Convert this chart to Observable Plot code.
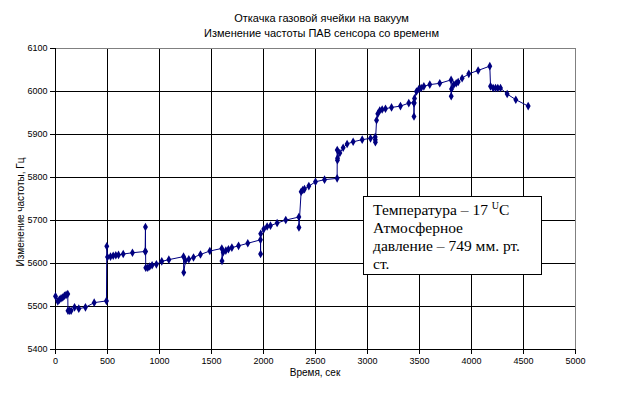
<!DOCTYPE html>
<html>
<head>
<meta charset="utf-8">
<script src="https://cdn.jsdelivr.net/npm/d3@7"></script>
<script src="https://cdn.jsdelivr.net/npm/@observablehq/plot@0.6"></script>
<style>
  html, body { margin: 0; padding: 0; background: #fff; }
  #wrap { position: relative; width: 643px; height: 394px; overflow: hidden; font-family: "Liberation Sans", Arial, sans-serif; }
  #title { position: absolute; left: 0; width: 643px; top: 11px; text-align: center; font-size: 11px; line-height: 15px; color: #000; }
  #chart { position: absolute; left: 0; top: 40px; }
  #ylab { position: absolute; left: 20px; top: 212px; transform: translate(-50%, -50%) rotate(-90deg); font-size: 10px; white-space: nowrap; }
  #xlab { position: absolute; left: 315px; top: 367px; transform: translateX(-50%); font-size: 10px; white-space: nowrap; }
  #note { position: absolute; left: 363px; top: 196px; width: 179px; height: 79px; border: 1px solid #000; background: #fff;
          font-family: "Liberation Serif", "Times New Roman", serif; font-size: 15.5px; line-height: 18px; padding: 4px 0 0 9px; box-sizing: border-box; white-space: nowrap; }
  #note sup { font-size: 10px; vertical-align: 6px; line-height: 0; }
</style>
</head>
<body>
<div id="wrap">
  <div id="title">Откачка газовой ячейки на вакуум<br>Изменение частоты ПАВ сенсора со временм</div>
  <div id="chart"></div>
  <div id="ylab">Изменение частоты, Гц</div>
  <div id="xlab">Время, сек</div>
  <div id="note">Температура – 17 <sup>U</sup>C<br>Атмосферное<br>давление – 749 мм. рт.<br>ст.</div>
</div>
<script>
const seconds = [0,22,38,54,70,86,102,118,120,134,150,183,224,288,372,490,493,500,529,555,580,606,651,740,862,865,866,868,887,906,929,970,1022,1090,1231,1233,1250,1282,1327,1394,1484,1599,1601,1612,1638,1663,1696,1760,1849,1971,1972,1973,2003,2035,2067,2131,2214,2340,2341,2362,2378,2394,2436,2500,2587,2708,2709,2711,2712,2734,2766,2804,2862,2949,3029,3074,3075,3076,3087,3099,3118,3141,3173,3231,3317,3397,3446,3447,3449,3452,3471,3494,3516,3542,3599,3695,3804,3805,3808,3830,3853,3872,3910,3974,4064,4176,4183,4208,4231,4253,4279,4343,4426,4545];
const frequency = [5524,5512,5516,5519,5521,5525,5527,5529,5490,5490,5490,5498,5495,5498,5509,5513,5640,5615,5616,5618,5619,5620,5622,5625,5628,5685,5628,5590,5590,5593,5596,5598,5605,5609,5616,5579,5607,5610,5614,5621,5629,5635,5606,5626,5630,5633,5637,5641,5647,5655,5622,5669,5680,5686,5688,5694,5701,5708,5684,5767,5771,5773,5780,5790,5795,5798,5864,5840,5845,5857,5869,5878,5883,5888,5891,5894,5888,5882,5933,5948,5956,5958,5960,5963,5966,5973,5974,5942,5973,5984,6000,6006,6008,6012,6016,6019,6027,5989,6006,6016,6019,6022,6031,6041,6049,6059,6012,6008,6008,6008,6008,5994,5981,5966];
const xTicks = [0,500,1000,1500,2000,2500,3000,3500,4000,4500,5000];
const yTicks = [5400,5500,5600,5700,5800,5900,6000,6100];

const data = seconds.map((t, i) => ({t, v: frequency[i]}));

const chart = Plot.plot({
  width: 643,
  height: 354,
  marginTop: 8,
  marginLeft: 55,
  marginRight: 68,
  marginBottom: 45,
  x: {domain: [0, 5000], label: null},
  y: {domain: [5400, 6100], label: null},
  style: {fontFamily: "'Liberation Sans', Arial, sans-serif", fontSize: "9px", color: "#000", background: "#fff", overflow: "visible"},
  marks: [
    Plot.gridX(xTicks.slice(1, -1), {stroke: "#000", strokeOpacity: 1}),
    Plot.gridY(yTicks.slice(1, -1), {stroke: "#000", strokeOpacity: 1}),
    Plot.ruleY([6100], {stroke: "#808080"}),
    Plot.ruleX([5000], {stroke: "#808080"}),
    Plot.ruleX([0], {stroke: "#000"}),
    Plot.ruleY([5400], {stroke: "#000"}),
    Plot.axisX(xTicks, {tickSize: 5, tickPadding: 3, label: null, stroke: "#000", tickFormat: d3.format("d")}),
    Plot.axisY(yTicks, {tickSize: 5, tickPadding: 3, label: null, stroke: "#000", tickFormat: d3.format("d")}),
    Plot.line(data, {x: "t", y: "v", stroke: "#000080", strokeWidth: 1}),
    Plot.dot(data, {x: "t", y: "v", symbol: "diamond", r: 2.6, fill: "#000080"})
  ]
});
document.getElementById("chart").appendChild(chart);
</script>
</body>
</html>
